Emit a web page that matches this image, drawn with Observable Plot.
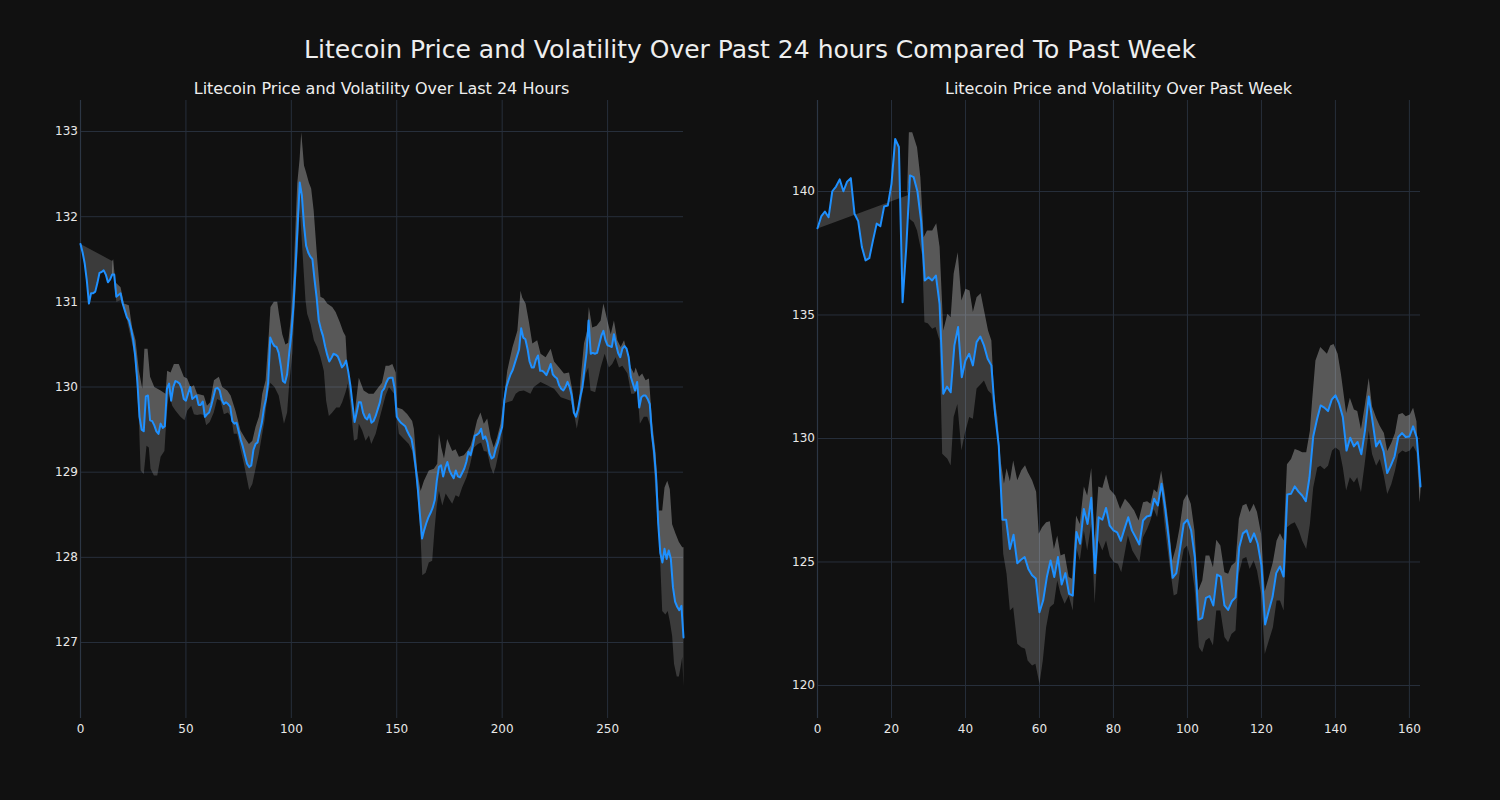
<!DOCTYPE html>
<html><head><meta charset="utf-8">
<script src="https://cdn.jsdelivr.net/npm/d3@7"></script>
<script src="https://cdn.jsdelivr.net/npm/@observablehq/plot@0.6"></script>
<style>
body{margin:0;background:#111111;}
#wrap{position:relative;width:1500px;height:800px;background:#111111;font-family:"DejaVu Sans",sans-serif;color:#eeeeee;overflow:hidden}
.title{position:absolute;left:0;width:1500px;top:36px;line-height:28px;text-align:center;font-size:25px;}
.sub{position:absolute;top:79px;line-height:20px;font-size:16px;text-align:center;width:603px}
.panel{position:absolute;top:90px}
</style></head><body>
<div id="wrap">
<div class="title">Litecoin Price and Volatility Over Past 24 hours Compared To Past Week</div>
<div class="sub" style="left:80px">Litecoin Price and Volatility Over Last 24 Hours</div>
<div class="sub" style="left:817px">Litecoin Price and Volatility Over Past Week</div>
<div class="panel" id="p1" style="left:0px"></div>
<div class="panel" id="p2" style="left:737px"></div>
</div>
<script>
// ---------- Left panel: last 24 hours (5-minute steps) ----------
const dayPrice = [131.68,131.58,131.45,131.25,130.98,131.10,131.10,131.12,131.22,131.34,131.35,131.37,131.32,131.23,131.26,131.32,131.32,131.06,131.08,131.10,
130.98,130.90,130.82,130.78,130.68,130.55,130.35,130.05,129.65,129.50,129.48,129.89,129.90,129.61,129.60,129.55,129.48,129.45,129.57,129.52,
129.54,129.98,130.04,129.84,130.00,130.07,130.06,130.04,129.98,129.86,129.84,129.92,130.00,129.86,129.88,129.90,129.79,129.79,129.83,129.65,
129.68,129.70,129.78,129.88,129.98,129.99,129.96,129.85,129.80,129.82,129.80,129.77,129.60,129.57,129.58,129.48,129.38,129.30,129.20,129.10,
129.06,129.08,129.26,129.33,129.35,129.47,129.58,129.75,129.86,130.05,130.58,130.52,130.48,130.47,130.40,130.25,130.07,130.05,130.15,130.40,
130.62,130.95,131.40,131.90,132.40,132.25,131.90,131.66,131.58,131.53,131.50,131.26,131.05,130.78,130.68,130.60,130.48,130.38,130.30,130.34,
130.39,130.38,130.36,130.30,130.23,130.26,130.31,130.18,130.02,129.80,129.59,129.70,129.82,129.82,129.70,129.64,129.62,129.68,129.58,129.60,
129.66,129.74,129.82,129.95,129.98,130.05,130.10,130.11,130.11,129.98,129.65,129.61,129.58,129.56,129.54,129.48,129.43,129.39,129.25,129.05,
128.80,128.50,128.22,128.32,128.40,128.47,128.52,128.58,128.67,128.90,129.06,129.08,128.95,129.05,129.12,129.02,128.97,128.93,129.02,128.95,
128.94,128.99,129.04,129.12,129.24,129.20,129.30,129.43,129.44,129.46,129.51,129.39,129.42,129.35,129.22,129.16,129.18,129.28,129.35,129.45,
129.53,129.84,130.00,130.08,130.15,130.20,130.28,130.36,130.44,130.69,130.58,130.56,130.45,130.30,130.23,130.23,130.32,130.37,130.19,130.19,
130.17,130.14,130.20,130.27,130.15,130.12,130.10,130.02,129.98,129.96,130.00,130.06,130.00,129.90,129.70,129.65,129.74,129.88,129.99,130.20,
130.40,130.78,130.39,130.40,130.39,130.40,130.50,130.60,130.66,130.55,130.49,130.48,130.47,130.62,130.50,130.40,130.35,130.45,130.48,130.45,
130.35,130.12,130.04,129.96,130.06,129.76,129.88,129.90,129.90,129.86,129.80,129.45,129.25,128.95,128.40,128.05,127.94,128.10,127.98,128.08,
127.98,127.65,127.48,127.42,127.38,127.43,127.06];
const dayUpperX = [15,15.5,16.5,19,20.6,22.9,24.5,26.1,27.7,29.3,30.3,31.8,33,35,38,40.3,41.1,42.7,44.3,46.6,49,50.6,52.2,53.8,55.3,58.5,60,61.5,63.3,65.6,67.2,69.6,71.2,73.5,75.9,78.3,79.9,81.5,83,84.6,85.4,86.2,87.8,89.3,90.1,91.7,93.3,94.1,95.7,97.2,98.5,100,101.2,102.8,103.9,104.7,106,107,108.3,109.4,110.6,112.3,113.8,115.4,117,119.4,121,123,124.6,125.7,126.5,128.1,129.7,132,134.3,136.7,139,141.4,143,144.7,146.3,147.9,149.5,150.2,152.6,155,157.3,158.1,159.7,161.3,162.9,165.2,167.6,169.2,170,171.1,172.4,173.9,176.3,177.9,179.5,181.8,183.4,185,186.6,188.1,189.7,191.3,192.9,194.5,196,197.6,199.2,200.5,202.4,204.8,207.2,208.7,209.5,211.1,212.7,214.3,216.6,218.2,220.6,223,224.6,227,229.3,231.7,233.3,234.8,236.4,237.2,238.8,240.3,241.1,242.7,244.8,246.7,248,249.9,251.5,253,254.6,256.2,257.8,259.4,261,262.5,263.3,264.9,266.4,268,269.6,271.2,272.8,274.3,275.9,277,278.3,279.5,280.6,282.2,283.8,285.4,286,286];
const dayUpperY = [131.48,131.5,131.23,131.17,130.98,130.96,130.7,130.55,130.19,129.98,130.45,130.45,130.12,130.0,129.96,129.92,130.19,130.17,130.27,130.27,130.12,130.1,130.0,130.02,129.92,129.9,129.78,129.82,130.08,130.12,130.0,129.96,129.9,129.72,129.49,129.39,129.33,129.37,129.53,129.65,129.76,129.92,130.08,130.62,130.94,131.0,131.0,130.86,130.62,130.5,130.52,130.86,131.41,132.39,132.67,132.99,132.6,132.52,132.4,132.33,132.07,131.49,131.06,131.04,130.98,130.94,130.88,130.76,130.65,130.6,130.25,130.0,129.62,130.11,129.96,129.92,129.92,130.0,130.05,130.25,130.25,130.27,130.17,129.76,129.74,129.68,129.6,129.51,129.02,128.78,128.9,129.02,129.04,129.1,129.45,129.29,129.16,129.39,129.25,129.27,129.18,129.2,129.25,129.31,129.45,129.61,129.7,129.57,129.63,129.41,129.29,129.41,129.57,129.8,130.19,130.46,130.66,131.13,131.05,130.98,130.76,130.51,130.55,130.39,130.35,130.45,130.3,130.23,130.16,130.17,129.96,129.68,129.8,130.09,130.51,130.66,130.94,130.7,130.72,130.78,130.98,130.78,130.62,130.78,130.55,130.47,130.55,130.39,130.23,130.16,130.23,130.12,130.16,130.08,130.1,129.57,129.22,128.55,128.55,128.82,128.9,128.8,128.39,128.28,128.18,128.12,128.12,127.06];
const dayLowerX = [0,15,15.8,17,19,21,22.6,25.3,26.5,27.7,28.5,30,31.3,32.4,33.2,34.8,36.4,38,39.8,40.8,41.9,43.5,45.1,47.4,49.3,50.6,52.5,53.8,55.3,57,58.5,59.6,61.3,63.2,64.8,66.4,68,69.9,71.5,72.7,74.3,75.9,77.5,78.8,80,81.5,83,84.6,86.2,87.3,88.6,90,92,94,95.5,96.5,98,99,100.5,101.5,103,104,105,106.7,107.5,109.1,110.7,112.2,113.8,115.4,116.5,117.8,119.4,121.3,122.9,124.1,125.7,126.8,128,129.7,131.3,132,133.6,135.2,136.8,137.9,140,141.6,143.2,144.7,146.3,148.7,150.2,151,153.4,155.7,157.3,158.9,160,161.3,162.1,163.7,165.2,166.8,167.9,168.9,170,171.6,173.2,174.7,176.3,177.9,179.5,181,183.1,184.7,186.6,188.5,190,191.3,192.9,194.5,195.8,196.9,198.5,199.6,200.8,202.4,204.8,206.4,208,210.3,213.4,215,218.2,221.3,224.6,227.8,230.2,232.5,234.1,235.4,236.4,238,239.7,240.8,241.9,244.1,246.7,248.6,250.6,252.2,253.8,255.4,257,259.4,261.2,262.5,264.1,265.3,267.2,268.8,270.4,271.7,273.2,274.8,275.9,277.4,278.5,279.5,280.6,281.5,282.8,283.8,284.6,285.4,286];
const dayLowerY = [131.68,131.48,131.25,131.0,131.02,130.9,130.72,130.42,130.1,129.6,129.02,128.98,129.31,129.29,129.04,128.96,128.96,129.18,129.25,129.65,129.92,129.78,129.72,129.65,129.61,129.72,129.78,129.68,129.67,129.68,129.67,129.55,129.59,129.7,129.86,129.84,129.68,129.7,129.65,129.45,129.45,129.27,129.1,128.94,128.79,128.86,129.04,129.22,129.45,129.61,129.88,130.05,130.0,129.9,129.7,129.57,129.7,130.04,130.4,130.9,131.6,132.1,131.7,131.02,130.86,130.74,130.55,130.47,130.35,130.19,129.84,129.66,129.7,129.76,129.76,129.82,129.94,130.04,129.8,129.37,129.39,129.57,129.49,129.37,129.43,129.33,129.45,129.61,129.76,129.9,130.0,129.92,129.61,129.45,129.39,129.33,129.25,128.98,128.67,128.24,127.79,127.82,127.94,127.96,128.32,128.59,128.78,128.61,128.75,128.69,128.63,128.73,128.71,128.82,128.94,129.08,129.29,129.33,129.35,129.25,129.24,129.06,128.98,129.06,129.25,129.39,129.8,129.82,129.84,129.92,129.95,129.96,129.92,130.0,130.06,130.02,129.98,129.88,129.86,129.84,129.68,129.51,129.65,129.92,130.16,130.23,129.96,129.94,130.23,130.39,130.23,130.27,130.35,130.23,130.25,130.16,129.92,129.92,129.96,129.57,129.65,129.65,129.53,129.14,128.6,128.04,127.37,127.33,127.37,127.25,127.08,126.75,126.6,126.6,126.71,126.83,126.48];
const dayXTicks = [0,50,100,150,200,250];
const dayYTicks = [127,128,129,130,131,132,133];

// ---------- Right panel: past week (hourly steps) ----------
const weekPrice = [138.51,138.99,139.19,138.96,140.01,140.20,140.49,140.01,140.40,140.54,139.10,138.80,137.75,137.21,137.30,138.02,138.70,138.60,139.39,139.43,
140.31,142.13,141.80,135.52,137.75,140.65,140.58,140.01,138.82,136.40,136.53,136.40,136.60,135.45,131.81,132.10,131.87,133.77,134.51,132.48,
133.16,133.43,132.96,133.90,134.13,133.77,133.23,132.96,131.00,129.70,126.71,126.71,125.53,126.10,124.95,125.09,125.20,124.72,124.46,124.33,
122.97,123.44,124.39,125.06,124.39,125.20,124.09,124.55,123.71,123.64,126.21,125.74,127.15,126.54,127.60,124.55,126.81,126.71,127.19,126.47,
126.28,126.20,125.86,126.35,126.81,126.28,126.00,125.71,126.68,126.84,126.88,127.56,127.29,128.17,127.15,125.86,124.36,124.55,125.53,126.55,
126.71,126.28,125.20,122.66,122.74,123.55,123.62,123.24,124.49,124.41,123.24,123.06,123.41,123.57,125.60,126.16,126.28,125.81,126.16,125.74,
124.86,122.47,123.04,123.58,124.55,124.82,124.41,127.73,127.76,128.06,127.85,127.69,127.46,128.43,130.08,130.76,131.34,131.25,131.11,131.57,
131.75,131.41,130.87,129.51,130.03,129.68,129.86,129.36,130.33,131.70,130.73,129.68,129.92,129.49,128.60,128.91,129.28,130.06,130.22,130.06,
130.08,130.49,130.03,128.06];
const weekUpperX = [24.2,24.7,25.6,26.9,27.8,28.7,29.6,31,32.1,33,34,35.1,36,36.8,37.9,38.9,40,41.1,42,43,44.1,45.2,46.1,47,47.7,48.6,49.5,50.4,51.1,52,52.9,54,55.1,56.1,56.8,58,59.1,59.8,60.7,61.8,62.8,63.9,64.8,65.7,66.8,67.9,68.8,69.9,70.9,72,72.9,74,74.9,75.9,77,78,79,80.5,81.8,83.1,84.3,85.6,86.8,88,89.1,90,90.9,91.8,92.9,93.9,95,95.9,96.9,97.9,98.9,99.9,100.9,101.9,102.9,104,104.9,105.9,106.9,107.8,108.9,110,111,111.9,113,113.9,114.9,115.9,116.8,117.9,118.8,119.9,120.9,122,123.1,124.1,125,126,126.9,128,129,130.1,131,132.1,133.1,133.7,134.6,135.9,137.7,138.6,139.5,140.6,141.5,142.9,143.9,145,145.9,146.9,147.9,149,149.9,151,152,153.1,154,155.1,156.1,157,158.1,159,160.1,161,161.9,162.8,163];
const weekUpperY = [139.8,142.4,142.4,141.79,140.58,138.15,138.42,138.42,138.71,137.75,134.37,135.05,134.91,136.67,137.54,135.59,136.06,135.99,135.12,135.72,135.88,135.05,134.37,133.97,131.81,130.86,129.1,128.17,128.8,128.27,129.11,128.31,128.71,128.92,128.65,128.31,127.84,126.14,126.41,126.61,126.65,125.53,126.07,125.26,125.33,124.39,124.32,126.88,126.54,128.06,127.69,128.81,125.86,128.06,128.0,128.54,127.95,127.69,127.15,127.56,127.36,127.08,126.68,127.42,127.46,127.36,127.95,127.81,128.69,127.75,126.41,125.06,125.6,126.41,127.49,127.75,127.36,126.28,123.85,124.25,125.26,125.26,124.79,125.9,125.67,124.59,124.52,124.86,125.0,126.75,127.29,127.36,127.02,127.36,127.02,126.14,123.82,124.39,125.0,125.87,126.16,125.87,128.96,129.17,129.57,129.51,129.44,129.44,130.31,131.54,133.16,133.7,133.43,133.77,133.83,133.43,132.6,131.03,131.65,131.17,131.11,130.37,131.3,132.45,131.3,130.84,130.51,130.22,129.49,129.82,130.22,130.97,131.03,130.9,130.97,131.24,130.7,127.4,128.06];
const weekLowerX = [0,24.7,24.9,26,26.9,28.3,28.9,29.8,31,31.9,33,33.7,35.1,36,36.8,37.8,38.9,39.8,41,42,43,44.1,45,46.1,47,47.5,48.6,49.5,50.2,51.1,52,52.9,54,55.1,56.1,56.8,58,58.9,60,60.9,61.8,62.8,63.9,64.8,65.7,66.8,67.9,69,69.9,70.9,72,72.9,74,74.9,75.9,77,78,79,80.1,81.2,82.1,83.9,85.1,87,88,89.1,90,90.9,91.8,92.9,93.9,95,96.3,97.2,98.1,99,99.9,100.7,101.9,103.1,104,104.9,105.9,106.9,107.8,108.9,110,111,111.9,113,113.9,114.9,115.9,116.8,117.9,118.8,119.9,120.9,122,123.1,124.1,125,126,126.9,128,129,130.1,131,132.1,133.1,134,135.1,135.9,137,138,139.1,140,141.1,142,142.9,143.9,145,145.9,146.9,147.9,149,149.9,151,152,153.1,154,155.1,156.1,157,158.1,159,160.1,161,161.9,162.8,163];
const weekLowerY = [138.5,139.87,138.89,138.75,138.42,137.41,134.71,134.67,134.44,134.51,133.97,129.38,129.18,128.91,130.87,131.4,129.51,130.19,130.87,130.8,132.02,132.2,132.35,131.94,131.81,131.27,130.32,127.49,125.33,124.52,123.04,123.17,121.69,121.55,121.49,121.01,120.81,120.88,120.07,121.01,122.36,123.17,123.31,124.25,123.71,123.31,123.64,123.04,125.6,125.06,126.28,125.47,126.54,123.31,125.87,125.47,125.87,125.23,124.99,124.93,124.59,126.07,125.47,124.99,126.0,126.34,126.68,127.15,126.81,127.89,126.41,125.06,123.64,123.71,124.79,125.53,125.67,125.2,123.98,121.55,121.35,121.82,121.93,121.62,123.04,123.04,121.96,121.75,122.09,122.23,124.52,125.13,125.2,124.72,125.06,124.66,123.71,121.28,121.82,122.36,123.44,123.44,123.04,126.41,126.54,126.61,126.28,125.87,125.53,126.54,128.02,128.83,128.9,128.76,128.9,129.51,129.64,129.51,128.83,127.89,128.43,128.22,128.43,127.82,128.96,130.31,129.37,128.9,129.17,128.49,127.75,128.15,128.69,129.37,129.51,129.44,129.51,129.71,129.44,127.42,128.06];
const weekXTicks = [0,20,40,60,80,100,120,140,160];
const weekYTicks = [120,125,130,135,140];

const gridColor = "#272f3b";
const spineColor = "#2c3644";

function panel(price, upX, upY, loX, loY, xDomain, yDomain, xTicks, yTicks) {
  const pts = price.map((v, i) => ({x: i, y: v}));
  const edge = (xs, ys) => xs.map((x, i) => ({x, y: ys[i]}));
  const upPoly = [...pts.filter(d => d.x >= upX[0]), ...edge(upX, upY).reverse()];
  const loPoly = [...pts.filter(d => d.x >= loX[0]), ...edge(loX, loY).reverse()];
  return Plot.plot({
    width: 723, height: 668,
    marginLeft: 80, marginRight: 40, marginTop: 10, marginBottom: 40,
    x: {domain: xDomain, label: null},
    y: {domain: yDomain, label: null},
    style: {background: "transparent", color: "#e8e8e8", fontFamily: "DejaVu Sans, sans-serif", fontSize: "12px", overflow: "visible"},
    marks: [
      Plot.gridX(xTicks, {stroke: gridColor, strokeOpacity: 1, strokeWidth: 1}),
      Plot.gridY(yTicks, {stroke: gridColor, strokeOpacity: 1, strokeWidth: 1}),
      Plot.line(loPoly, {x: "x", y: "y", fill: "#ffffff", fillOpacity: 0.176, stroke: "none"}),
      Plot.line(upPoly, {x: "x", y: "y", fill: "#ffffff", fillOpacity: 0.30, stroke: "none"}),
      Plot.ruleX([xDomain[0]], {stroke: spineColor, strokeWidth: 1.2}),
      Plot.line(pts, {x: "x", y: "y", stroke: "#1e90ff", strokeWidth: 2}),
      Plot.axisX(xTicks, {tickSize: 0, tickPadding: 6, fill: "#e8e8e8", label: null, tickFormat: d => String(d)}),
      Plot.axisY(yTicks, {tickSize: 0, tickPadding: 2.5, fill: "#e8e8e8", label: null, tickFormat: d => String(d)})
    ]
  });
}

document.getElementById("p1").appendChild(
  panel(dayPrice, dayUpperX, dayUpperY, dayLowerX, dayLowerY, [0, 286], [126.108, 133.364], dayXTicks, dayYTicks));
document.getElementById("p2").appendChild(
  panel(weekPrice, weekUpperX, weekUpperY, weekLowerX, weekLowerY, [0, 163], [118.664, 143.684], weekXTicks, weekYTicks));
</script>
</body></html>
